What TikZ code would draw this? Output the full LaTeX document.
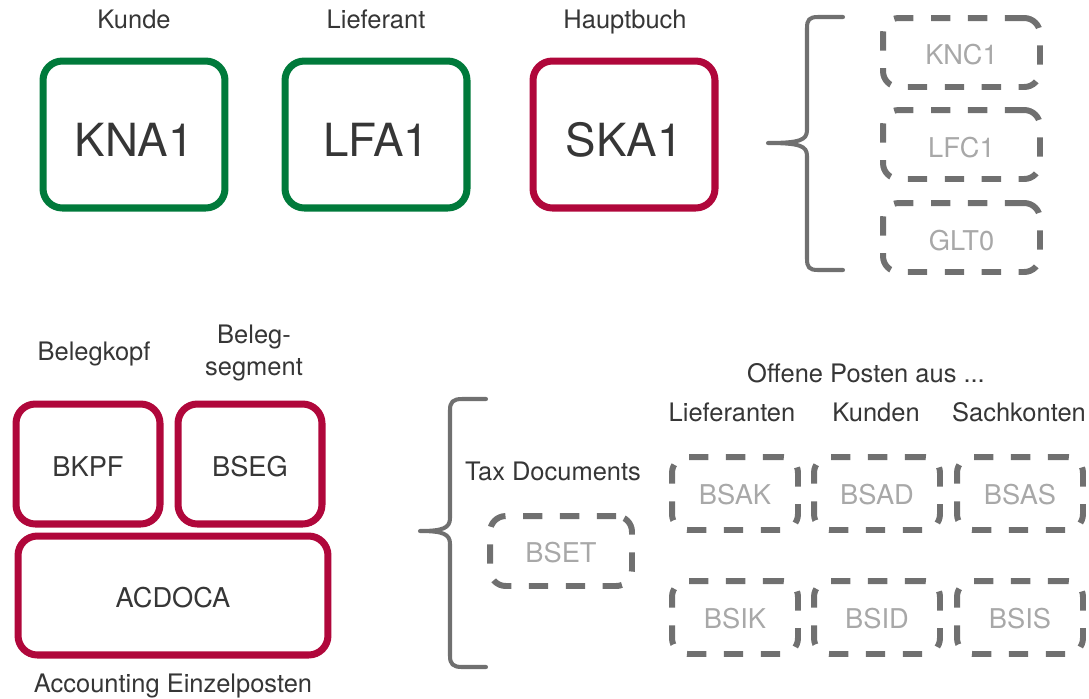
\documentclass[tikz,border=0pt]{standalone}
\usepackage{fontspec}
\setmainfont{TeX Gyre Heros}
\definecolor{sapgreen}{HTML}{007A3B}
\definecolor{sapred}{HTML}{B0073B}
\definecolor{dashgray}{HTML}{707070}
\definecolor{txtdark}{HTML}{363636}
\definecolor{txtlight}{HTML}{A8A8A8}
\tikzset{
  bigbox/.style={draw=sapgreen, line width=4pt, rounded corners=11pt, minimum width=3.64cm, minimum height=2.94cm, inner sep=0pt, text=txtdark, font=\fontsize{26}{28}\selectfont},
  redbox/.style={draw=sapred, line width=4pt, rounded corners=11pt, inner sep=0pt, text=txtdark, font=\fontsize{15.5}{18}\selectfont},
  dbox/.style={draw=dashgray, line width=3.4pt, dash pattern=on 11pt off 10pt, rounded corners=9pt, inner sep=0pt, text=txtlight, font=\fontsize{15.5}{18}\selectfont},
  lbl/.style={text=txtdark, font=\fontsize{14.5}{18}\selectfont, inner sep=0pt, anchor=base},
  bracepath/.style={draw=dashgray, line width=2.3pt, line cap=round, line join=round}
}
\begin{document}
\begin{tikzpicture}[x=0.02cm,y=-0.02cm]
\useasboundingbox (0,0) rectangle (1089,698);
% top row
\node[lbl] (lkunde) at (134,28) {Kunde};
\node[lbl] (llief) at (376,28) {Lieferant};
\node[lbl] (lhaupt) at (625,28) {Hauptbuch};
\node[bigbox] (kna1) at (134,134.5) {};
\node[text=txtdark, font=\fontsize{26}{28}\selectfont, inner sep=0pt, anchor=base] (tkna1) at (134,156) {KNA1};
\node[bigbox] (lfa1) at (376,134.5) {};
\node[text=txtdark, font=\fontsize{26}{28}\selectfont, inner sep=0pt, anchor=base] (tlfa1) at (376,156) {LFA1};
\node[bigbox, draw=sapred] (ska1) at (624,134.5) {};
\node[text=txtdark, font=\fontsize{26}{28}\selectfont, inner sep=0pt, anchor=base] (tska1) at (624,156) {SKA1};
% top right brace
\draw[bracepath] (843,17) -- (818,17) .. controls (809,17) and (807,20) .. (807,28) -- (807,130) .. controls (807,140) and (800,143) .. (768,143)
  .. controls (800,143) and (807,146) .. (807,156) -- (807,259) .. controls (807,267) and (809,270) .. (818,270) -- (843,270);
\node[dbox, minimum width=3.14cm, minimum height=1.38cm] (knc1) at (961.5,52.5) {};
\node[text=txtlight, font=\fontsize{15.5}{18}\selectfont, inner sep=0pt, anchor=base] (tknc1) at (961.5,64) {KNC1};
\node[dbox, minimum width=3.14cm, minimum height=1.38cm] (lfc1) at (961.5,144.5) {};
\node[text=txtlight, font=\fontsize{15.5}{18}\selectfont, inner sep=0pt, anchor=base] (tlfc1) at (961.5,157) {LFC1};
\node[dbox, minimum width=3.14cm, minimum height=1.38cm] (glt0) at (961.5,237.5) {};
\node[text=txtlight, font=\fontsize{15.5}{18}\selectfont, inner sep=0pt, anchor=base] (tglt0) at (961.5,250) {GLT0};
% bottom left
\node[lbl] (lbkpf) at (94,360) {Belegkopf};
\node[lbl] (lbseg1) at (254,343) {Beleg-};
\node[lbl] (lbseg2) at (254,375) {segment};
\node[redbox, minimum width=2.88cm, minimum height=2.4cm] (bkpf) at (88,464) {};
\node[text=txtdark, font=\fontsize{15.5}{18}\selectfont, inner sep=0pt, anchor=base] (tbkpf) at (88,476) {BKPF};
\node[redbox, minimum width=2.88cm, minimum height=2.4cm] (bseg) at (250,464) {};
\node[text=txtdark, font=\fontsize{15.5}{18}\selectfont, inner sep=0pt, anchor=base] (tbseg) at (250,476) {BSEG};
\node[redbox, minimum width=6.2cm, minimum height=2.38cm] (acdoca) at (173,595.5) {};
\node[text=txtdark, font=\fontsize{15.5}{18}\selectfont, inner sep=0pt, anchor=base] (tacdoca) at (173,607) {ACDOCA};
\node[lbl] (lacc) at (173,692) {Accounting Einzelposten};
% bottom brace
\draw[bracepath] (486,399) -- (462,399) .. controls (453,399) and (450,402) .. (450,410) -- (450,518) .. controls (450,528) and (443,531) .. (420,531)
  .. controls (443,531) and (450,534) .. (450,544) -- (450,656) .. controls (450,664) and (453,667) .. (462,667) -- (486,667);
\node[lbl] (ltax) at (553,480) {Tax Documents};
\node[dbox, minimum width=2.84cm, minimum height=1.4cm] (bset) at (561,551) {};
\node[text=txtlight, font=\fontsize{15.5}{18}\selectfont, inner sep=0pt, anchor=base] (tbset) at (561,562) {BSET};
\node[lbl] (loffen) at (866,382) {Offene Posten aus ...};
\node[lbl] (llief2) at (732,421) {Lieferanten};
\node[lbl] (lkund2) at (876,421) {Kunden};
\node[lbl] (lsach) at (1019,421) {Sachkonten};
\foreach \nm/\cx/\cy/\tx in {bsak/735/493.5/BSAK, bsad/877/493.5/BSAD, bsas/1020/493.5/BSAS, bsik/735/617.5/BSIK, bsid/877/617.5/BSID, bsis/1020/617.5/BSIS}{
  \node[dbox, minimum width=2.52cm, minimum height=1.46cm] (\nm) at (\cx,\cy) {};
  \node[text=txtlight, font=\fontsize{15.5}{18}\selectfont, inner sep=0pt, anchor=base] (t\nm) at (\cx,\cy+10.5) {\tx};
}
\end{tikzpicture}
\end{document}
